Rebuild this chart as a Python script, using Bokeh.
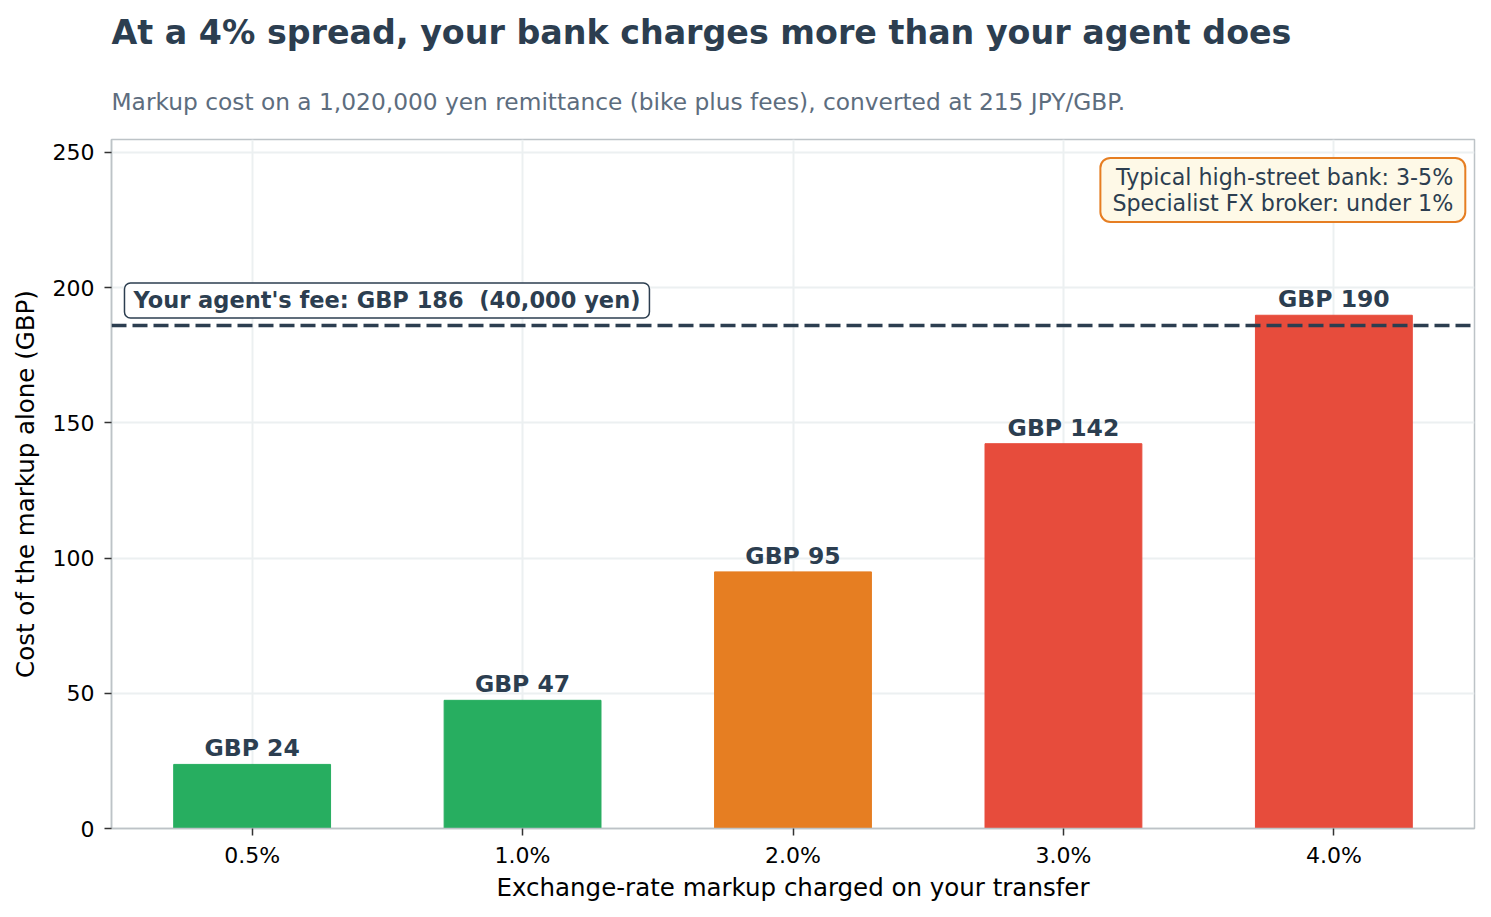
from bokeh.plotting import figure
from bokeh.embed import file_html
from bokeh.resources import INLINE
from bokeh.models import (ColumnDataSource, FactorRange, Range1d, Span, Label,
                          SingleIntervalTicker, Title)
from bokeh.core.properties import value

# data
markups = [0.5, 1.0, 2.0, 3.0, 4.0]            # exchange-rate markup, %
costs_gbp = [23.7, 47.4, 94.9, 142.3, 189.8]   # cost of the markup alone
agent_fee_gbp = 186.0
agent_fee_yen = 40000

title = "At a 4% spread, your bank charges more than your agent does"
subtitle = ("Markup cost on a 1,020,000 yen remittance (bike plus fees), "
            "converted at 215 JPY/GBP.")
note_lines = ["Typical high-street bank: 3-5%", "Specialist FX broker: under 1%"]

FONT = "DejaVu Sans"
DARK = "#2c3e50"


def bar_color(m):
    if m <= 1.0:
        return "#27ae60"
    if m < 3.0:
        return "#e67e22"
    return "#e74c3c"


cats = [f"{m:.1f}%" for m in markups]
src = ColumnDataSource(data=dict(
    cat=cats,
    cost=costs_gbp,
    color=[bar_color(m) for m in markups],
    label=[f"GBP {c:.0f}" for c in costs_gbp],
))

p = figure(x_range=FactorRange(factors=cats, range_padding=0.02,
                               range_padding_units="absolute"),
           y_range=Range1d(0, 254.8),
           width=1483, height=909,
           min_border_left=111, min_border_right=9,
           min_border_top=139, min_border_bottom=81,
           output_backend="svg", toolbar_location=None)

p.vbar(x="cat", top="cost", width=0.58, color="color", source=src)

p.text(x="cat", y="cost", text="label", source=src,
       text_align="center", text_baseline="bottom", y_offset=-2,
       text_font=value(FONT), text_font_style="bold",
       text_font_size="23.5px", text_color=DARK)

# agent fee reference line
p.add_layout(Span(location=agent_fee_gbp, dimension="width",
                  line_color=DARK, line_width=3.5, line_dash="15 6"))
p.add_layout(Label(x=0.028, y=188.8, text_align="left", text_baseline="bottom",
                   text=f"Your agent's fee: GBP {agent_fee_gbp:.0f}\u00a0 ({agent_fee_yen:,} yen)",
                   text_font=FONT, text_font_style="bold", text_font_size="22.5px",
                   text_color=DARK,
                   background_fill_color="white",
                   border_line_color=DARK, border_line_width=1.5,
                   border_radius=6,
                   padding=dict(left=9, right=9, top=4, bottom=5)))

p.add_layout(Label(x=4.986, y=248.0, text_align="right", text_baseline="top",
                   text="\n".join(note_lines),
                   text_font=FONT, text_font_size="22.2px", text_color=DARK,
                   text_line_height=1.0,
                   background_fill_color="#fef9e7",
                   border_line_color="#e67e22", border_line_width=2,
                   border_radius=10,
                   padding=dict(left=12, right=12, top=6, bottom=6)))

# subtitle first (closest to the plot), then the title above it
p.add_layout(Title(text=subtitle, align="left", vertical_align="bottom",
                   standoff=49, text_font=FONT, text_font_style="normal",
                   text_font_size="23.3px", text_color="#5d6d7e"), "above")
p.add_layout(Title(text=title, align="left", vertical_align="bottom",
                   standoff=20, text_font=FONT, text_font_style="bold",
                   text_font_size="33.3px", text_color=DARK), "above")

# axes
p.yaxis.ticker = SingleIntervalTicker(interval=50)
p.xaxis.axis_label = "Exchange-rate markup charged on your transfer"
p.yaxis.axis_label = "Cost of the markup alone (GBP)"
for ax in (p.xaxis, p.yaxis):
    ax.axis_label_text_font = FONT
    ax.axis_label_text_font_style = "normal"
    ax.axis_label_text_font_size = "24.5px"
    ax.axis_label_text_color = "black"
    ax.major_label_text_font = FONT
    ax.major_label_text_font_size = "22px"
    ax.major_label_text_color = "black"
    ax.axis_line_color = "#bdc3c7"
    ax.axis_line_width = 1.5
    ax.major_tick_line_color = "#333333"
    ax.major_tick_line_width = 1.5
    ax.major_tick_in = 0
    ax.major_tick_out = 7
    ax.minor_tick_line_color = None
p.xaxis.major_label_standoff = 7
p.xaxis.axis_label_standoff = 2
p.yaxis.major_label_standoff = 10
p.yaxis.axis_label_standoff = 10

p.xgrid.grid_line_color = "#ecf0f1"
p.ygrid.grid_line_color = "#ecf0f1"
p.xgrid.grid_line_width = 2
p.ygrid.grid_line_width = 2

p.outline_line_color = "#bdc3c7"
p.outline_line_width = 1.5
p.background_fill_color = "white"
p.border_fill_color = "white"

open("out.html", "w").write(file_html(p, INLINE))
